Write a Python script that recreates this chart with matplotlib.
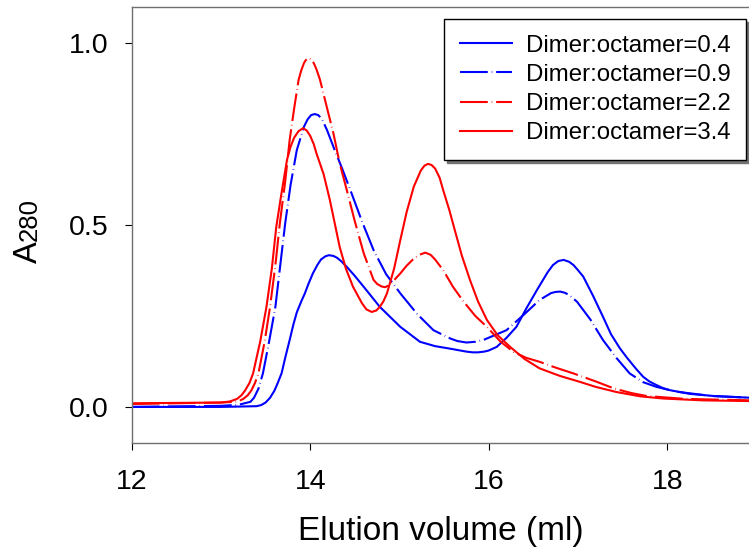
import matplotlib
matplotlib.use("Agg")
import matplotlib.pyplot as plt
from matplotlib.ticker import FormatStrFormatter

plt.rcParams['font.family'] = ['Liberation Sans', 'DejaVu Sans']
plt.rcParams['lines.scale_dashes'] = False

# elution volume (ml) / A280 traces for each dimer:octamer ratio
x_04 = [12.0, 13.0, 13.4, 13.45, 13.5, 13.55, 13.6, 13.64, 13.68, 13.72, 13.77, 13.81,
        13.85, 13.9, 13.94, 13.98, 14.03, 14.08, 14.12, 14.17, 14.21, 14.26, 14.30, 14.35,
        14.41, 14.5, 14.6, 14.78, 15.01, 15.23, 15.4, 15.57, 15.75, 15.82, 15.88, 15.95,
        16.0, 16.09, 16.2, 16.31, 16.42, 16.54, 16.66, 16.72, 16.78, 16.84, 16.90, 16.95,
        17.0, 17.06, 17.17, 17.28, 17.37, 17.47, 17.55, 17.65, 17.73, 17.8, 17.88, 17.95,
        18.03, 18.25, 18.52, 18.95]
y_04 = [0.0, 0.0, 0.002, 0.005, 0.012, 0.025, 0.045, 0.068, 0.093, 0.135, 0.184, 0.225,
        0.26, 0.29, 0.312, 0.338, 0.367, 0.39, 0.405, 0.414, 0.417, 0.415, 0.41, 0.40,
        0.385, 0.36, 0.33, 0.275, 0.220, 0.179, 0.167, 0.160, 0.152, 0.150, 0.150, 0.152,
        0.155, 0.165, 0.19, 0.220, 0.27, 0.321, 0.37, 0.39, 0.401, 0.404, 0.399, 0.39,
        0.376, 0.358, 0.305, 0.248, 0.20, 0.161, 0.135, 0.105, 0.083, 0.07, 0.060, 0.052,
        0.046, 0.036, 0.030, 0.025]

x_09 = [12.0, 13.0, 13.2, 13.33, 13.37, 13.42, 13.47, 13.54, 13.61, 13.66, 13.72, 13.78,
        13.85, 13.93, 13.97, 14.01, 14.05, 14.09, 14.13, 14.19, 14.26, 14.35, 14.45, 14.58,
        14.71, 14.85, 15.01, 15.2, 15.38, 15.57, 15.65, 15.75, 15.85, 15.95, 16.2, 16.4,
        16.57, 16.7, 16.75, 16.80, 16.85, 16.9, 16.99, 17.14, 17.28, 17.43, 17.58, 17.73,
        17.88, 18.1, 18.5, 18.95]
y_09 = [0.0, 0.003, 0.006, 0.014, 0.025, 0.05, 0.092, 0.18, 0.275, 0.38, 0.505, 0.61,
        0.706, 0.77, 0.79, 0.802, 0.805, 0.802, 0.792, 0.76, 0.715, 0.66, 0.596, 0.51,
        0.431, 0.365, 0.312, 0.255, 0.211, 0.188, 0.181, 0.177, 0.179, 0.185, 0.211, 0.255,
        0.294, 0.313, 0.316, 0.317, 0.314, 0.308, 0.289, 0.24, 0.184, 0.135, 0.092, 0.068,
        0.055, 0.042, 0.030, 0.025]

x_22 = [12.0, 13.0, 13.15, 13.2, 13.25, 13.3, 13.34, 13.38, 13.42, 13.49, 13.55, 13.61,
        13.66, 13.72, 13.77, 13.82, 13.87, 13.90, 13.93, 13.95, 13.98, 14.01, 14.04, 14.07,
        14.11, 14.18, 14.26, 14.33, 14.41, 14.50, 14.60, 14.71, 14.75, 14.80, 14.84, 14.88,
        14.92, 15.01, 15.08, 15.15, 15.22, 15.29, 15.35, 15.4, 15.49, 15.6, 15.72, 15.85,
        15.98, 16.13, 16.28, 16.42, 16.57, 16.75, 16.95, 17.2, 17.40, 17.6, 17.77, 18.2, 18.95]
y_22 = [0.008, 0.012, 0.014, 0.016, 0.022, 0.032, 0.045, 0.065, 0.092, 0.18, 0.275, 0.39,
        0.505, 0.62, 0.734, 0.82, 0.899, 0.925, 0.945, 0.953, 0.959, 0.955, 0.945, 0.928,
        0.899, 0.83, 0.752, 0.67, 0.596, 0.51, 0.422, 0.349, 0.338, 0.331, 0.329, 0.334,
        0.343, 0.367, 0.388, 0.405, 0.418, 0.424, 0.418, 0.405, 0.376, 0.33, 0.289, 0.25,
        0.220, 0.18, 0.151, 0.135, 0.124, 0.108, 0.092, 0.07, 0.051, 0.038, 0.030, 0.022, 0.018]

x_34 = [12.0, 13.0, 13.1, 13.18, 13.23, 13.27, 13.32, 13.36, 13.44, 13.51, 13.57, 13.62,
        13.68, 13.74, 13.78, 13.82, 13.87, 13.92, 13.96, 14.0, 14.04, 14.07, 14.15, 14.22,
        14.33, 14.40, 14.48, 14.58, 14.63, 14.69, 14.74, 14.78, 14.82, 14.86, 14.94, 15.01,
        15.08, 15.16, 15.24, 15.28, 15.32, 15.36, 15.40, 15.45, 15.49, 15.56, 15.62, 15.70,
        15.79, 15.88, 15.98, 16.1, 16.24, 16.4, 16.57, 16.8, 17.02, 17.2, 17.43, 17.7,
        17.96, 18.4, 18.95]
y_34 = [0.01, 0.012, 0.015, 0.022, 0.032, 0.045, 0.066, 0.092, 0.18, 0.275, 0.38, 0.495,
        0.59, 0.679, 0.715, 0.74, 0.758, 0.766, 0.76, 0.745, 0.722, 0.697, 0.64, 0.569,
        0.440, 0.38, 0.330, 0.285, 0.268, 0.261, 0.265, 0.275, 0.29, 0.312, 0.38, 0.459,
        0.535, 0.605, 0.65, 0.663, 0.668, 0.665, 0.655, 0.63, 0.596, 0.54, 0.486, 0.415,
        0.349, 0.29, 0.239, 0.197, 0.165, 0.132, 0.106, 0.085, 0.069, 0.055, 0.041, 0.029,
        0.023, 0.018, 0.016]

labels = ['Dimer:octamer=0.4', 'Dimer:octamer=0.9',
          'Dimer:octamer=2.2', 'Dimer:octamer=3.4']

W, H = 749, 549
fig = plt.figure(figsize=(W / 100, H / 100), dpi=100)
ax = fig.add_axes([131.7 / W, (H - 443.3) / H, (W - 131.7) / W, (443.3 - 6.7) / H])

# long dash with a tiny dot in the gap
dashdot = (0, (20, 2.8, 0.4, 2.8))
ax.plot(x_04, y_04, color='#0000ff', lw=1.5, label=labels[0])
ax.plot(x_09, y_09, color='#0000ff', lw=1.5, linestyle=dashdot, label=labels[1])
ax.plot(x_22, y_22, color='#ff0000', lw=1.5, linestyle=dashdot, label=labels[2])
ax.plot(x_34, y_34, color='#ff0000', lw=1.5, label=labels[3])

ax.set_xlim(12, 12 + (W - 131.7) / 89.25)
ax.set_ylim(-0.1, 1.1)
ax.set_xticks([12, 14, 16, 18])
ax.set_yticks([0.0, 0.5, 1.0])
ax.yaxis.set_major_formatter(FormatStrFormatter('%.1f'))
ax.tick_params(direction='out', length=4.8, width=0.8, labelsize=20.5, color='black')
ax.tick_params(axis='x', pad=14)
ax.tick_params(axis='y', pad=12)
for side in ['left', 'bottom', 'top']:
    ax.spines[side].set_color('#707070')
    ax.spines[side].set_linewidth(1.0)
ax.spines['right'].set_visible(False)

ax.set_xlabel('Elution volume (ml)', fontsize=24, labelpad=15)

# y label: "A" with a smaller "280" on the same baseline
fig.text(36.7 / W, (H - 263) / H, 'A', rotation=90, rotation_mode='anchor',
         ha='left', va='baseline', fontsize=23.5)
fig.text(36.7 / W, (H - 241) / H, '280', rotation=90, rotation_mode='anchor',
         ha='left', va='baseline', fontsize=18.5)

leg = ax.legend(loc='upper right', bbox_to_anchor=(746 / W, 1 - 19 / H),
                bbox_transform=fig.transFigure, borderaxespad=0, fontsize=17.3,
                fancybox=False, edgecolor='black', framealpha=1,
                handlelength=2.2, handletextpad=0.55, labelspacing=0.3,
                borderpad=0.65, shadow={'color': '0.45', 'alpha': 1})
leg.get_frame().set_linewidth(1.0)

fig.savefig('out.png', dpi=100)
